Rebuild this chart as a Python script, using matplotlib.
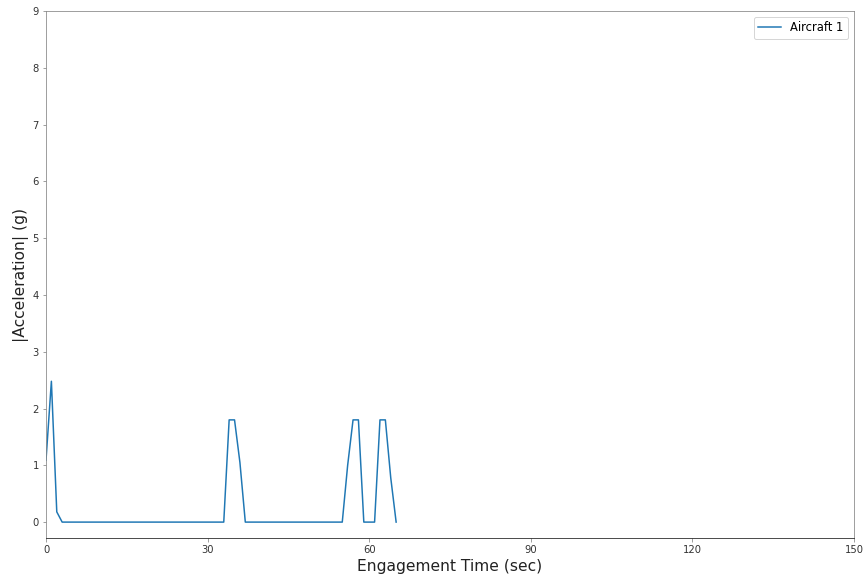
import matplotlib
matplotlib.use("Agg")
import matplotlib.pyplot as plt

# Engagement time samples (sec) and acceleration magnitude (g) for aircraft 1
time_sec = list(range(0, 66))
accel_g = [1.09, 2.48, 0.18] + [0.0] * 31 + [1.8, 1.8, 1.05] + [0.0] * 19 + \
          [1.0, 1.8, 1.8, 0.0, 0.0, 0.0, 1.8, 1.8, 0.78, 0.0]

x_ticks = [0, 30, 60, 90, 120, 150]
y_ticks = list(range(0, 10))

fig = plt.figure(figsize=(867 / 72, 579 / 72), dpi=72)
ax = fig.add_axes([46 / 867, 1 - 538 / 579, 808 / 867, 527 / 579])

ax.plot(time_sec, accel_g, color="#1f77b4", label="Aircraft 1")

ax.set_xlim(0, 150)
ax.set_ylim(-0.28, 9)
ax.set_xticks(x_ticks)
ax.set_yticks(y_ticks)
ax.tick_params(labelsize=10, labelcolor="#333333", color="#888888")

# light frame, dark baseline
for side in ["left", "right", "top"]:
    ax.spines[side].set_color("#888888")
ax.spines["bottom"].set_color("#222222")

ax.set_xlabel("Engagement Time (sec)", fontsize=15.5, color="#222222")
ax.set_ylabel("|Acceleration| (g)", fontsize=15.5, color="#222222")
ax.legend(loc="upper right", fontsize=11.5)

fig.savefig("out.png", dpi=72)
